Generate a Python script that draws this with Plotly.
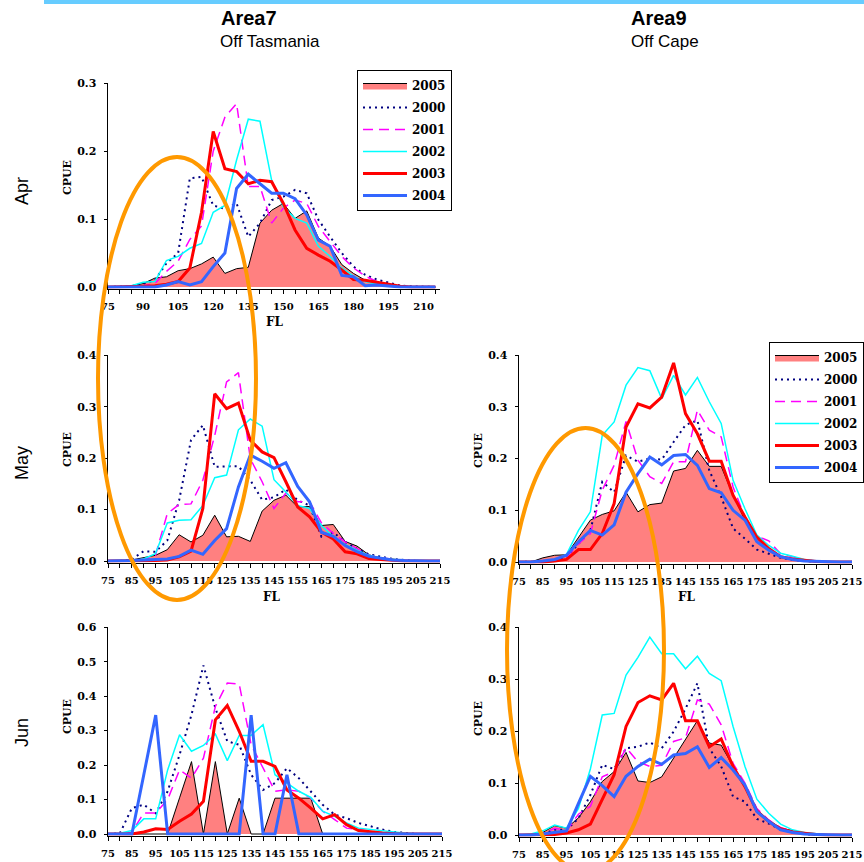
import plotly.graph_objects as go

# ---------------- data ----------------
FL = [75, 80, 85, 90, 95, 100, 105, 110, 115, 120, 125, 130, 135, 140, 145,
      150, 155, 160, 165, 170, 175, 180, 185, 190, 195, 200, 205, 210, 215]
YEARS = ["2005", "2000", "2001", "2002", "2003", "2004"]

# Apr - Area7 (Off Tasmania)
APR7_2005 = [0, 0, 0.002, 0.005, 0.013, 0.015, 0.024, 0.027, 0.034, 0.044, 0.020, 0.027, 0.029, 0.094, 0.113,
             0.123, 0.101, 0.112, 0.072, 0.060, 0.033, 0.020, 0.010, 0.006, 0.002, 0.001, 0, 0, 0]
APR7_2000 = [0, 0, 0.001, 0.005, 0.010, 0.035, 0.050, 0.160, 0.162, 0.120, 0.115, 0.123, 0.074, 0.094, 0.128,
             0.133, 0.143, 0.138, 0.099, 0.074, 0.050, 0.030, 0.018, 0.011, 0.006, 0.002, 0.001, 0, 0]
APR7_2001 = [0, 0, 0, 0.002, 0.005, 0.023, 0.038, 0.070, 0.090, 0.200, 0.250, 0.270, 0.148, 0.148, 0.094,
             0.116, 0.128, 0.123, 0.089, 0.067, 0.045, 0.028, 0.016, 0.008, 0.004, 0.002, 0, 0, 0]
APR7_2002 = [0, 0, 0.002, 0.007, 0.008, 0.039, 0.045, 0.057, 0.064, 0.110, 0.120, 0.187, 0.247, 0.244, 0.157,
             0.118, 0.101, 0.094, 0.060, 0.045, 0.028, 0.016, 0.008, 0.004, 0.002, 0, 0, 0, 0]
APR7_2003 = [0, 0, 0, 0.001, 0.002, 0.004, 0.008, 0.028, 0.110, 0.229, 0.174, 0.170, 0.152, 0.157, 0.155,
             0.123, 0.084, 0.057, 0.047, 0.038, 0.025, 0.011, 0.010, 0.007, 0.003, 0.001, 0, 0, 0]
APR7_2004 = [0, 0, 0, 0, 0, 0.003, 0.008, 0.003, 0.008, 0.030, 0.050, 0.145, 0.166, 0.152, 0.138,
             0.138, 0.130, 0.106, 0.069, 0.060, 0.017, 0.015, 0.002, 0.003, 0.001, 0, 0, 0, 0]

# May - Area7
MAY7_2005 = [0, 0, 0.002, 0.006, 0.011, 0.022, 0.051, 0.037, 0.050, 0.089, 0.047, 0.048, 0.038, 0.097, 0.118,
             0.128, 0.105, 0.106, 0.069, 0.071, 0.038, 0.029, 0.012, 0.006, 0.003, 0.001, 0, 0, 0]
MAY7_2000 = [0, 0, 0.003, 0.019, 0.018, 0.040, 0.118, 0.235, 0.264, 0.183, 0.184, 0.184, 0.157, 0.119, 0.124,
             0.139, 0.118, 0.108, 0.047, 0.056, 0.037, 0.024, 0.013, 0.008, 0.004, 0.002, 0, 0, 0]
MAY7_2001 = [0, 0, 0, 0.002, 0.011, 0.092, 0.110, 0.111, 0.157, 0.244, 0.348, 0.366, 0.199, 0.154, 0.102,
             0.132, 0.115, 0.115, 0.074, 0.054, 0.037, 0.024, 0.011, 0.006, 0.003, 0.001, 0, 0, 0]
MAY7_2002 = [0, 0, 0, 0.004, 0.014, 0.074, 0.079, 0.080, 0.108, 0.162, 0.167, 0.255, 0.276, 0.262, 0.158,
             0.134, 0.108, 0.102, 0.069, 0.047, 0.032, 0.021, 0.011, 0.006, 0.003, 0.001, 0, 0, 0]
MAY7_2003 = [0, 0, 0, 0, 0.001, 0.002, 0.008, 0.019, 0.102, 0.325, 0.296, 0.307, 0.235, 0.212, 0.201,
             0.154, 0.105, 0.086, 0.056, 0.043, 0.018, 0.014, 0.005, 0.003, 0.001, 0, 0, 0, 0]
MAY7_2004 = [0, 0, 0.001, 0.002, 0.003, 0.004, 0.009, 0.021, 0.013, 0.040, 0.063, 0.144, 0.206, 0.194, 0.180,
             0.191, 0.145, 0.115, 0.056, 0.048, 0.030, 0.018, 0.009, 0.006, 0.002, 0.001, 0, 0, 0]

# May - Area9 (Off Cape)
MAY9_2005 = [0, 0, 0.008, 0.013, 0.014, 0.048, 0.081, 0.092, 0.099, 0.135, 0.097, 0.111, 0.114, 0.176, 0.181,
             0.216, 0.185, 0.185, 0.129, 0.081, 0.047, 0.026, 0.011, 0.006, 0.003, 0.001, 0, 0, 0]
MAY9_2000 = [0, 0, 0.001, 0.004, 0.010, 0.035, 0.061, 0.155, 0.135, 0.206, 0.194, 0.200, 0.198, 0.232, 0.265,
             0.274, 0.177, 0.126, 0.065, 0.045, 0.024, 0.016, 0.008, 0.004, 0.002, 0, 0, 0, 0]
MAY9_2001 = [0, 0, 0, 0.003, 0.010, 0.035, 0.055, 0.139, 0.187, 0.272, 0.197, 0.165, 0.152, 0.194, 0.194,
             0.294, 0.255, 0.242, 0.145, 0.087, 0.050, 0.041, 0.016, 0.010, 0.004, 0.002, 0, 0, 0]
MAY9_2002 = [0, 0, 0.001, 0.003, 0.015, 0.061, 0.097, 0.245, 0.271, 0.342, 0.376, 0.370, 0.316, 0.361, 0.323,
             0.357, 0.310, 0.268, 0.158, 0.103, 0.052, 0.032, 0.017, 0.011, 0.005, 0.002, 0, 0, 0]
MAY9_2003 = [0, 0, 0, 0.002, 0.005, 0.024, 0.024, 0.055, 0.113, 0.261, 0.306, 0.298, 0.319, 0.385, 0.287,
             0.248, 0.195, 0.195, 0.129, 0.087, 0.048, 0.026, 0.010, 0.006, 0.003, 0.001, 0, 0, 0]
MAY9_2004 = [0, 0, 0.002, 0.005, 0.013, 0.039, 0.061, 0.052, 0.072, 0.135, 0.171, 0.203, 0.188, 0.206, 0.208,
             0.187, 0.142, 0.134, 0.100, 0.081, 0.039, 0.023, 0.010, 0.005, 0.002, 0.001, 0, 0, 0]

# Jun - Area7
JUN7_2005 = [0, 0, 0, 0, 0, 0, 0.105, 0.210, 0, 0.210, 0, 0.104, 0, 0, 0.104,
             0.104, 0.104, 0.104, 0, 0, 0, 0, 0, 0, 0, 0, 0, 0, 0]
JUN7_2000 = [0, 0.002, 0.075, 0.085, 0.060, 0.124, 0.230, 0.346, 0.489, 0.365, 0.269, 0.259, 0.172, 0.128, 0.148,
             0.191, 0.162, 0.124, 0.085, 0.056, 0.046, 0.032, 0.022, 0.013, 0.006, 0.002, 0, 0, 0]
JUN7_2001 = [0, 0, 0.005, 0.061, 0.061, 0.100, 0.186, 0.162, 0.220, 0.370, 0.438, 0.435, 0.259, 0.191, 0.124,
             0.128, 0.124, 0.104, 0.066, 0.042, 0.017, 0.013, 0.008, 0.004, 0.002, 0, 0, 0, 0]
JUN7_2002 = [0, 0.002, 0.010, 0.044, 0.044, 0.186, 0.288, 0.240, 0.257, 0.290, 0.213, 0.286, 0.286, 0.317, 0.172,
             0.148, 0.124, 0.106, 0.066, 0.051, 0.032, 0.017, 0.013, 0.008, 0.004, 0.002, 0, 0, 0]
JUN7_2003 = [0, 0, 0, 0.006, 0.015, 0.013, 0.037, 0.058, 0.095, 0.331, 0.373, 0.298, 0.211, 0.211, 0.196,
             0.128, 0.104, 0.075, 0.044, 0.056, 0.027, 0.010, 0.006, 0.003, 0.001, 0, 0, 0, 0]
JUN7_2004 = [0, 0, 0, 0.172, 0.345, 0, 0, 0, 0, 0, 0, 0, 0.345, 0, 0,
             0.172, 0, 0, 0, 0, 0, 0, 0, 0, 0, 0, 0, 0, 0]

# Jun - Area9
JUN9_2005 = [0, 0, 0.005, 0.018, 0.013, 0.033, 0.064, 0.103, 0.122, 0.159, 0.104, 0.101, 0.112, 0.148, 0.183,
             0.220, 0.177, 0.173, 0.132, 0.096, 0.048, 0.029, 0.013, 0.008, 0.004, 0.001, 0, 0, 0]
JUN9_2000 = [0, 0, 0.002, 0.010, 0.010, 0.032, 0.077, 0.135, 0.127, 0.167, 0.170, 0.178, 0.167, 0.199, 0.243,
             0.292, 0.167, 0.132, 0.074, 0.064, 0.031, 0.022, 0.010, 0.005, 0.002, 0, 0, 0, 0]
JUN9_2001 = [0, 0, 0.003, 0.013, 0.008, 0.040, 0.055, 0.112, 0.122, 0.168, 0.141, 0.132, 0.134, 0.180, 0.187,
             0.260, 0.252, 0.212, 0.138, 0.100, 0.051, 0.029, 0.014, 0.008, 0.003, 0.001, 0, 0, 0]
JUN9_2002 = [0, 0.002, 0.008, 0.019, 0.013, 0.051, 0.127, 0.231, 0.234, 0.308, 0.342, 0.381, 0.349, 0.349, 0.320,
             0.344, 0.311, 0.297, 0.209, 0.132, 0.069, 0.042, 0.021, 0.010, 0.005, 0.002, 0, 0, 0]
JUN9_2003 = [0, 0, 0, 0.001, 0.004, 0.010, 0.021, 0.067, 0.116, 0.209, 0.255, 0.268, 0.260, 0.292, 0.220,
             0.220, 0.170, 0.185, 0.132, 0.093, 0.046, 0.026, 0.012, 0.006, 0.003, 0.001, 0, 0, 0]
JUN9_2004 = [0, 0, 0.002, 0.005, 0.008, 0.061, 0.113, 0.095, 0.074, 0.113, 0.132, 0.146, 0.136, 0.154, 0.157,
             0.170, 0.130, 0.149, 0.125, 0.096, 0.045, 0.026, 0.010, 0.005, 0.002, 0.001, 0, 0, 0]

# ---------------- layout helpers ----------------
W, H = 864, 862


def px(x):
    return x / W


def py(y):
    return 1 - y / H


STYLE = {
    "2005": dict(color="black", width=1),
    "2000": dict(color="#000080", width=2, dash="2px,4px"),
    "2001": dict(color="#FF00FF", width=1.5, dash="10px,6px"),
    "2002": dict(color="#00FFFF", width=1.5),
    "2003": dict(color="#FF0000", width=3),
    "2004": dict(color="#3366FF", width=3),
}

PANELS = [
    dict(series=[APR7_2005, APR7_2000, APR7_2001, APR7_2002, APR7_2003, APR7_2004],
         x0=108, x1=440, ytop=83, yzero=287, ymax=0.3, xmax=217, dtick=15, legend="legend"),
    dict(series=[MAY7_2005, MAY7_2000, MAY7_2001, MAY7_2002, MAY7_2003, MAY7_2004],
         x0=108, x1=440, ytop=355, yzero=561, ymax=0.4, xmax=215, dtick=10, legend=None),
    dict(series=[MAY9_2005, MAY9_2000, MAY9_2001, MAY9_2002, MAY9_2003, MAY9_2004],
         x0=519, x1=852, ytop=355, yzero=562, ymax=0.4, xmax=215, dtick=10, legend="legend2"),
    dict(series=[JUN7_2005, JUN7_2000, JUN7_2001, JUN7_2002, JUN7_2003, JUN7_2004],
         x0=108, x1=442, ytop=627, yzero=834, ymax=0.6, xmax=215, dtick=10, legend=None),
    dict(series=[JUN9_2005, JUN9_2000, JUN9_2001, JUN9_2002, JUN9_2003, JUN9_2004],
         x0=519, x1=852, ytop=627, yzero=835, ymax=0.4, xmax=215, dtick=10, legend=None),
]

XTICKFONT = dict(family="DejaVu Serif", size=10, color="black", weight="bold")
YTICKFONT = dict(family="DejaVu Serif", size=11, color="black", weight="bold")

fig = go.Figure()
layout = {}
PAD = 1.5
for i, p in enumerate(PANELS):
    k = "" if i == 0 else str(i + 1)
    xa, ya = "x" + k, "y" + k
    for yr, vals in zip(YEARS, p["series"]):
        kw = dict(x=FL, y=vals, mode="lines", name=yr, xaxis=xa, yaxis=ya,
                  line=STYLE[yr], legendgroup=yr,
                  showlegend=p["legend"] is not None, hoverinfo="skip")
        if p["legend"]:
            kw["legend"] = p["legend"]
        if yr == "2005":
            kw["fill"] = "tozeroy"
            kw["fillcolor"] = "#FF8080"
        fig.add_trace(go.Scatter(**kw))
    span = p["yzero"] - p["ytop"]
    ymin = -p["ymax"] * PAD / span
    layout["xaxis" + k] = dict(
        domain=[px(p["x0"]), px(p["x1"])], anchor=ya, range=[75, p["xmax"]],
        tick0=75, dtick=p["dtick"], ticks="outside", ticklen=4, tickwidth=1, tickcolor="black",
        minor=dict(tick0=75, dtick=5, ticks="outside", ticklen=4, tickwidth=1, tickcolor="black", showgrid=False),
        showline=True, linecolor="black", linewidth=1.5, showgrid=False, zeroline=False,
        tickangle=0, tickfont=XTICKFONT, ticklabelstandoff=4, layer="below traces")
    layout["yaxis" + k] = dict(
        domain=[py(p["yzero"] + PAD), py(p["ytop"])], anchor=xa, range=[ymin, p["ymax"] * 1.001],
        tick0=0, dtick=0.1, tickformat=".1f", ticks="outside", ticklen=3, tickwidth=1, tickcolor="black",
        showline=True, linecolor="black", linewidth=1.5, showgrid=False, zeroline=False,
        tickfont=YTICKFONT, ticklabelstandoff=5, layer="below traces")

LEGFONT = dict(family="DejaVu Serif", size=12, color="black", weight="bold")
leg_common = dict(xanchor="left", yanchor="top", bgcolor="white", bordercolor="black", borderwidth=1,
                  font=LEGFONT, itemwidth=44, tracegroupgap=3, traceorder="grouped")
layout["legend"] = dict(x=px(357), y=py(70), **leg_common)
layout["legend2"] = dict(x=px(769), y=py(342), **leg_common)

ann = []
title_font = dict(family="Liberation Sans", size=20, color="black", weight="bold")
sub_font = dict(family="Liberation Sans", size=17, color="black")
ann.append(dict(text="Area7", x=px(219), y=py(18), xanchor="left", yanchor="middle", font=title_font))
ann.append(dict(text="Off Tasmania", x=px(218), y=py(41), xanchor="left", yanchor="middle", font=sub_font))
ann.append(dict(text="Area9", x=px(629), y=py(18), xanchor="left", yanchor="middle", font=title_font))
ann.append(dict(text="Off Cape", x=px(629), y=py(41), xanchor="left", yanchor="middle", font=sub_font))

row_font = dict(family="Liberation Sans", size=18, color="black")
for lab, yc in [("Apr", 191), ("May", 463), ("Jun", 733)]:
    ann.append(dict(text=lab, x=px(22), y=py(yc), textangle=-90, xanchor="center", yanchor="middle",
                    font=row_font))

axt_font = dict(family="DejaVu Serif", size=11, color="black", weight="bold")
for xc, yc in [(67, 178), (67, 450), (478, 450), (67, 717), (478, 718)]:
    ann.append(dict(text="CPUE", x=px(xc), y=py(yc), textangle=-90, xanchor="center", yanchor="middle",
                    font=axt_font))
fl_font = dict(family="DejaVu Serif", size=12, color="black", weight="bold")
for xc, yc in [(275, 322), (272, 597), (687, 597)]:
    ann.append(dict(text="FL", x=px(xc), y=py(yc), xanchor="center", yanchor="middle", font=fl_font))

for a in ann:
    a.update(xref="paper", yref="paper", showarrow=False)

shapes = [
    dict(type="rect", xref="paper", yref="paper", x0=px(44), x1=1, y0=py(4), y1=1,
         fillcolor="#66CCFF", line=dict(width=0), layer="above"),
    dict(type="circle", xref="paper", yref="paper", x0=px(98), x1=px(256), y0=py(600), y1=py(157),
         line=dict(color="#FF9900", width=4), layer="above"),
    dict(type="circle", xref="paper", yref="paper", x0=px(507), x1=px(664), y0=py(872), y1=py(428),
         line=dict(color="#FF9900", width=4), layer="above"),
]

fig.update_layout(width=W, height=H, autosize=False,
                  margin=dict(l=0, r=0, t=0, b=0, pad=0, autoexpand=False),
                  paper_bgcolor="white", plot_bgcolor="rgba(0,0,0,0)",
                  annotations=ann, shapes=shapes, **layout)

fig.write_html("out.html", config={"displayModeBar": False, "staticPlot": True},
               post_script="document.body.style.margin='0';document.body.style.overflow='hidden';")
